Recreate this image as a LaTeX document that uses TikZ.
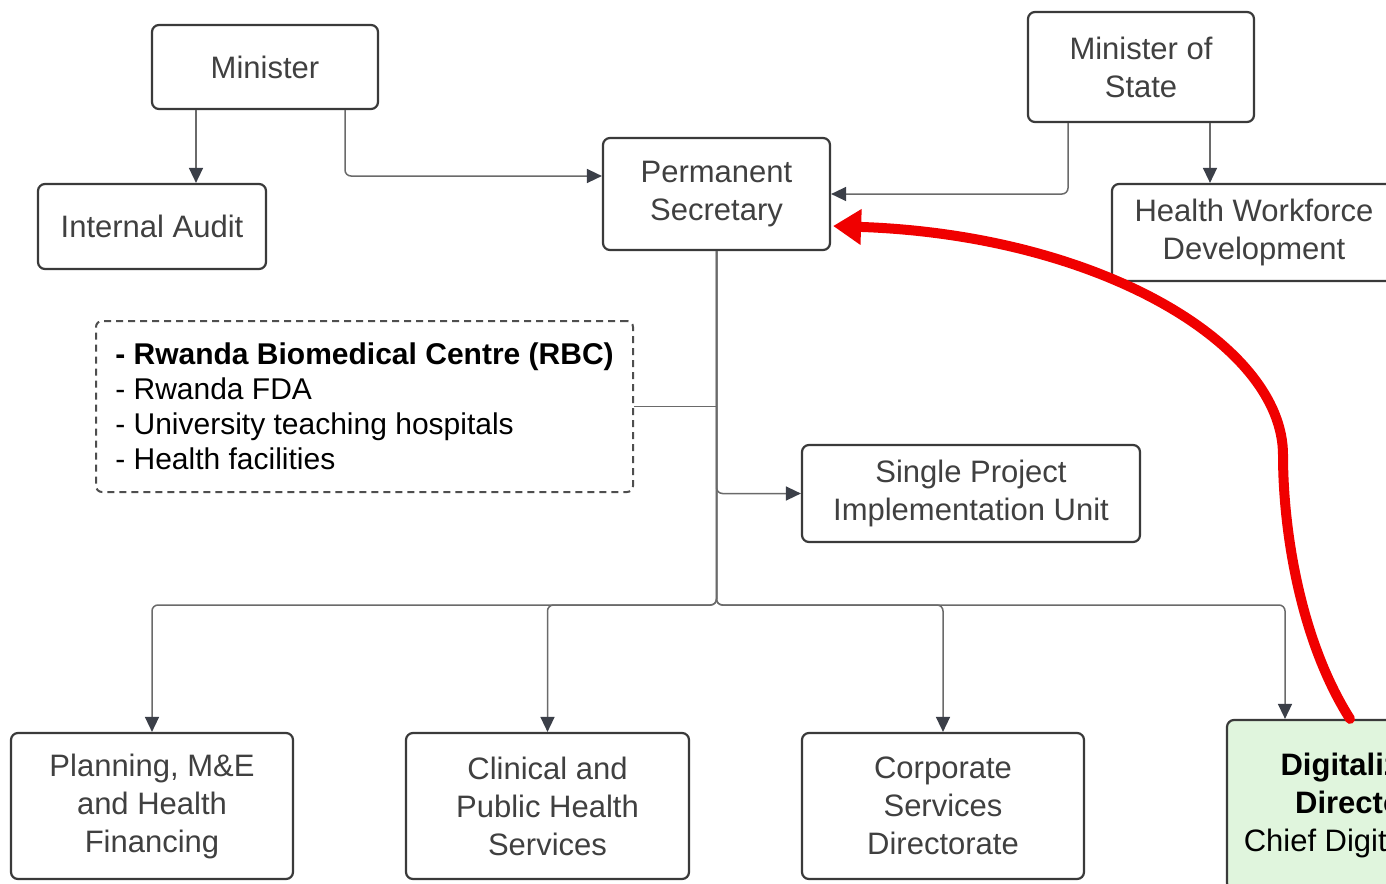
\documentclass[tikz,border=0pt]{standalone}
\usepackage{fontspec}
\setmainfont{Liberation Sans}
\usetikzlibrary{arrows.meta}
\definecolor{boxline}{HTML}{3A3A3A}
\definecolor{txt}{HTML}{404040}
\definecolor{conn}{HTML}{6A6A6A}
\definecolor{tip}{HTML}{3B3F48}
\definecolor{greenfill}{HTML}{E0F5DD}
\definecolor{redarrow}{HTML}{F00000}
\tikzset{
  orgbox/.style={draw=boxline, line width=2.2pt, rounded corners=7pt, align=center,
    text=txt, font=\fontsize{31}{38}\selectfont, inner sep=4pt},
  dashbox/.style={draw=boxline!90, line width=2pt, dash pattern=on 7pt off 5pt,
    rounded corners=6pt, align=left, text=black, font=\fontsize{30}{35}\selectfont},
  connline/.style={draw=conn, line width=1.5pt},
  arr/.style={connline, -{Triangle[length=15pt,width=14pt,fill=tip,color=tip]}},
  redline/.style={draw=redarrow, line width=10pt, -{Triangle[length=28pt,width=34pt,fill=redarrow,color=redarrow]}}
}
\begin{document}
\begin{tikzpicture}[x=1pt,y=-1pt]
\useasboundingbox (0,0) rectangle (1386,883);
\clip (0,0) rectangle (1386,883);
\fill[white] (0,0) rectangle (1386,883);

\node[orgbox, minimum width=226pt, minimum height=84pt] (min) at (265,67) {Minister};
\node[orgbox, minimum width=228pt, minimum height=85pt] (ia) at (152,226.5) {Internal Audit};
\node[orgbox, minimum width=227pt, minimum height=112pt] (ps) at (716.5,194) {Permanent\\Secretary};
\node[orgbox, minimum width=226pt, minimum height=110pt] (mos) at (1141,67) {Minister of\\State};
\node[orgbox, minimum width=284pt, minimum height=97pt] (hwd) at (1254,232.5) {Health Workforce\\Development};
\node[dashbox, minimum width=537pt, minimum height=171pt] (dash) at (364.5,406.5)
  {\textbf{- Rwanda Biomedical Centre (RBC)}\\- Rwanda FDA\\- University teaching hospitals\\- Health facilities};
\node[orgbox, minimum width=338pt, minimum height=97pt] (spiu) at (971,493.5) {Single Project\\Implementation Unit};
\node[orgbox, minimum width=282pt, minimum height=146pt] (plan) at (152,806) {Planning, M\&E\\and Health\\Financing};
\node[orgbox, minimum width=283pt, minimum height=146pt] (clin) at (547.5,806) {Clinical and\\Public Health\\Services};
\node[orgbox, minimum width=282pt, minimum height=146pt] (corp) at (943,806) {Corporate\\Services\\Directorate};
\node[orgbox, fill=greenfill, text=black, minimum width=300pt, minimum height=170pt] (dig) at (1377,805)
  {\textbf{Digitalization}\\\textbf{Directorate}\\Chief Digital Officer};

\coordinate (j) at (716.5,605);

% connectors
\draw[arr] ([xshift=-69pt]min.south) -- ([xshift=-69pt]min.south |- ia.north);
\draw[arr, rounded corners=6pt] ([xshift=80pt]min.south) |- ([yshift=18pt]ps.west);
\draw[arr, rounded corners=6pt] ([xshift=-73pt]mos.south) |- (ps.east);
\draw[arr] ([xshift=69pt]mos.south) -- ([xshift=69pt]mos.south |- hwd.north);
\draw[connline] (dash.east) -- (dash.east -| ps.south);
\draw[arr, rounded corners=6pt] (ps.south) -- (spiu.west -| ps.south) -- (spiu.west);
\draw[arr, rounded corners=6pt] (ps.south) -- (j) -| (plan.north);
\draw[arr, rounded corners=6pt] (ps.south) -- (j) -| (clin.north);
\draw[arr, rounded corners=6pt] (ps.south) -- (j) -| (corp.north);
\draw[arr, rounded corners=6pt] (ps.south) -- (j) -| ([xshift=-92pt]dig.north);

% red arrow
\draw[redline, line cap=round] ([xshift=-27pt]dig.north)
  .. controls (1300,640) and (1283,530) .. (1283,455)
  .. controls (1283,345) and (1100,235) .. ([yshift=-32pt,xshift=2pt]ps.east);
\end{tikzpicture}
\end{document}
